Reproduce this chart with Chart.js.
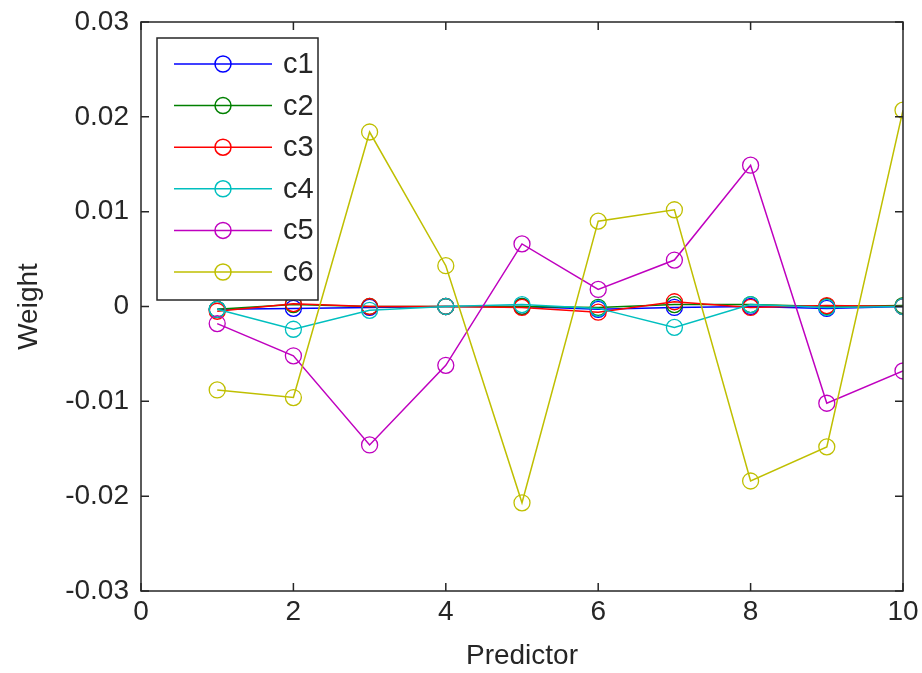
<!DOCTYPE html>
<html>
<head>
<meta charset="utf-8">
<script src="https://cdn.jsdelivr.net/npm/chart.js@4/dist/chart.umd.min.js"></script>
<style>
    html, body { margin: 0; padding: 0; background: #fff; }
    #wrap { width: 922px; height: 673px; }
</style>
</head>
<body>
<div id="wrap"><canvas id="weights-chart"></canvas></div>
<script>
// predictor index on the x axis
const predictors = [1, 2, 3, 4, 5, 6, 7, 8, 9, 10];

// weights
const c1 = [-0.0003, -0.0002, -0.0001, 0.0000, 0.0000, -0.0003, -0.0001, 0.0000, -0.0002, 0.0000];
const c2 = [-0.0003, 0.0002, 0.0000, 0.0000, 0.0000, -0.0001, 0.0002, 0.0002, 0.0000, 0.0001];
const c3 = [-0.0005, 0.0003, 0.0000, 0.0000, -0.0001, -0.0006, 0.0005, -0.0001, 0.0001, 0.0000];
const c4 = [-0.0003, -0.0024, -0.0004, 0.0000, 0.0002, -0.0002, -0.0022, 0.0002, -0.0001, 0.0000];
const c5 = [-0.0018, -0.0052, -0.0146, -0.0062, 0.0066, 0.0018, 0.0049, 0.0149, -0.0102, -0.0068];
const c6 = [-0.0088, -0.0096, 0.0184, 0.0043, -0.0207, 0.0090, 0.0102, -0.0184, -0.0148, 0.0207];

const seriesNames = ['c1', 'c2', 'c3', 'c4', 'c5', 'c6'];
const seriesColors = ['#0000ff', '#008000', '#ff0000', '#00bfbf', '#bf00bf', '#bfbf00'];
const yTicks = [-0.03, -0.02, -0.01, 0, 0.01, 0.02, 0.03];
const xTicks = [0, 2, 4, 6, 8, 10];

const FONT = '"Liberation Sans", Arial, sans-serif';

function toPoints(values) {
    return values.map((v, i) => ({ x: predictors[i], y: v }));
}

const allSeries = [c1, c2, c3, c4, c5, c6];
const datasets = allSeries.map((vals, i) => ({
    label: seriesNames[i],
    data: toPoints(vals),
    borderColor: seriesColors[i],
    backgroundColor: 'rgba(0,0,0,0)',
    pointBorderColor: seriesColors[i],
    pointBackgroundColor: 'rgba(0,0,0,0)',
    pointRadius: 8,
    pointBorderWidth: 1.3,
    borderWidth: 1.5,
    tension: 0,
    order: allSeries.length - i   // last series drawn on top, like matlab
}));

// box around plot area + inward ticks
const frame = {
    id: 'frame',
    afterDatasetsDraw(chart) {
        const ctx = chart.ctx;
        const a = chart.chartArea;
        const xs = chart.scales.x, ys = chart.scales.y;
        ctx.save();
        ctx.strokeStyle = '#262626';
        ctx.lineWidth = 1.5;
        ctx.strokeRect(a.left, a.top, a.right - a.left, a.bottom - a.top);
        ctx.beginPath();
        xTicks.forEach(t => {
            const px = xs.getPixelForValue(t);
            ctx.moveTo(px, a.bottom); ctx.lineTo(px, a.bottom - 8);
            ctx.moveTo(px, a.top); ctx.lineTo(px, a.top + 8);
        });
        yTicks.forEach(t => {
            const py = ys.getPixelForValue(t);
            ctx.moveTo(a.left, py); ctx.lineTo(a.left + 8, py);
            ctx.moveTo(a.right, py); ctx.lineTo(a.right - 8, py);
        });
        ctx.stroke();
        ctx.restore();
    }
};

// matlab style legend box in the upper left
const boxLegend = {
    id: 'boxLegend',
    afterDraw(chart) {
        const ctx = chart.ctx;
        const a = chart.chartArea;
        const left = a.left + 16, top = a.top + 16;
        const w = 161, h = 262;
        ctx.save();
        ctx.fillStyle = '#fff';
        ctx.fillRect(left, top, w, h);
        ctx.strokeStyle = '#262626';
        ctx.lineWidth = 1.5;
        ctx.strokeRect(left, top, w, h);
        ctx.font = '29px ' + FONT;
        ctx.textBaseline = 'middle';
        chart.data.datasets.forEach((ds, i) => {
            const y = top + 26 + i * 41.6;
            ctx.strokeStyle = ds.borderColor;
            ctx.lineWidth = 1.5;
            ctx.beginPath();
            ctx.moveTo(left + 17, y); ctx.lineTo(left + 115, y);
            ctx.stroke();
            ctx.beginPath();
            ctx.arc(left + 66, y, 8, 0, Math.PI * 2);
            ctx.stroke();
            ctx.fillStyle = '#262626';
            ctx.fillText(ds.label, left + 126, y + 1);
        });
        ctx.restore();
    }
};

new Chart(document.getElementById('weights-chart'), {
    type: 'line',
    data: { datasets: datasets },
    options: {
        responsive: true,
        maintainAspectRatio: false,
        animation: false,
        layout: { padding: { top: 22, right: 19, left: 0, bottom: 0 } },
        plugins: {
            legend: { display: false },
            tooltip: { enabled: false }
        },
        scales: {
            x: {
                type: 'linear',
                min: 0,
                max: 10,
                afterBuildTicks: scale => { scale.ticks = xTicks.map(v => ({ value: v })); },
                afterFit: scale => {
                    scale.height = 82;
                    scale.paddingLeft = 0;
                    scale.paddingRight = 0;
                },
                grid: { display: false, drawTicks: false },
                border: { display: false },
                ticks: {
                    color: '#262626',
                    font: { family: FONT, size: 28 },
                    padding: 4,
                    maxRotation: 0
                },
                title: {
                    display: true,
                    text: 'Predictor',
                    color: '#262626',
                    font: { family: FONT, size: 28 },
                    padding: { top: 0, bottom: 0 }
                }
            },
            y: {
                type: 'linear',
                min: -0.03,
                max: 0.03,
                afterBuildTicks: scale => { scale.ticks = yTicks.map(v => ({ value: v })); },
                afterFit: scale => {
                    scale.width = 141;
                    scale.paddingTop = 0;
                    scale.paddingBottom = 0;
                },
                grid: { display: false, drawTicks: false },
                border: { display: false },
                ticks: {
                    color: '#262626',
                    font: { family: FONT, size: 28 },
                    padding: 12,
                    callback: v => String(Math.round(v * 100) / 100)
                },
                title: {
                    display: true,
                    text: 'Weight',
                    color: '#262626',
                    font: { family: FONT, size: 28 },
                    padding: { top: 12, bottom: 0 }
                }
            }
        }
    },
    plugins: [frame, boxLegend]
});
</script>
</body>
</html>
